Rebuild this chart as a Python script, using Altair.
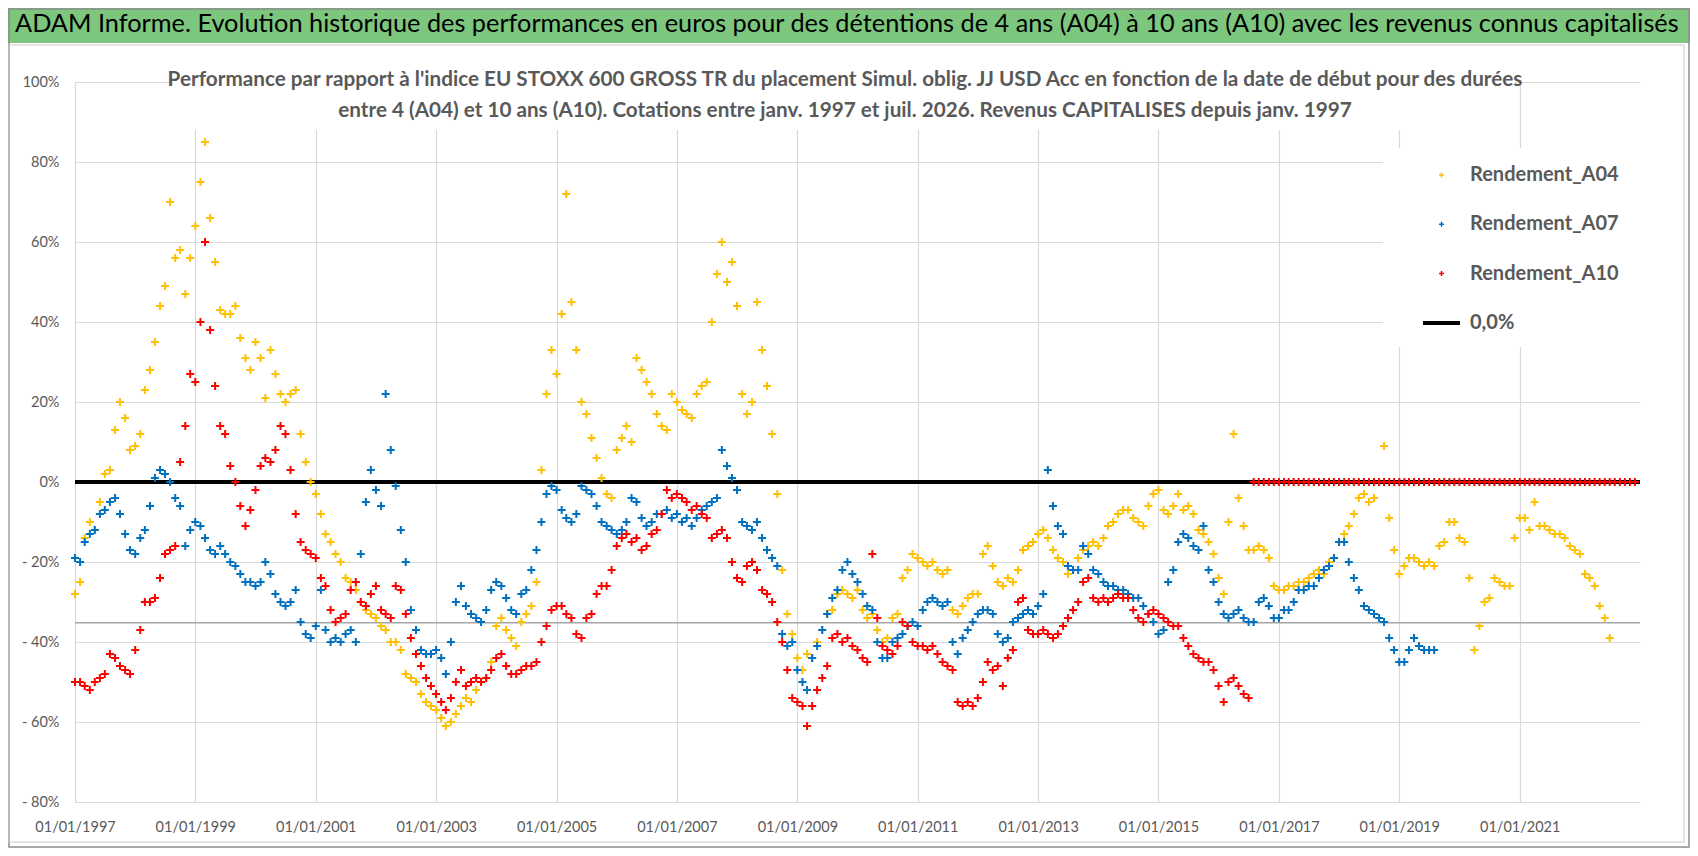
import altair as alt
import pandas as pd

# --- series: one reading per month (percent), starting January 1997 ---
names = ["Rendement_A04", "Rendement_A07", "Rendement_A10", "0,0%"]
colors = ["#FFC000", "#0070C0", "#FF0000", "#000000"]
start = "1997-01-01"

a04 = [
    -28, -25, -14, -10, -12, -5, 2, 3, 13, 20, 16, 8,            # 1997
    9, 12, 23, 28, 35, 44, 49, 70, 56, 58, 47, 56,               # 1998
    64, 75, 85, 66, 55, 43, 42, 42, 44, 36, 31, 28,              # 1999
    35, 31, 21, 33, 27, 22, 20, 22, 23, 12, 5, 0,                # 2000
    -3, -8, -13, -15, -18, -20, -24, -25, -27, -30, -32, -33,    # 2001
    -34, -36, -37, -40, -40, -42, -48, -49, -50, -53, -55, -56,  # 2002
    -57, -59, -61, -60, -58, -56, -54, -55, -52, -50, -49, -45,  # 2003
    -36, -34, -37, -39, -41, -35, -33, -31, -25, 3, 22, 33,      # 2004
    27, 42, 72, 45, 33, 20, 17, 11, 6, 1, -3, -4,                # 2005
    8, 11, 14, 10, 31, 28, 25, 22, 17, 14, 13, 22,               # 2006
    20, 18, 17, 16, 22, 24, 25, 40, 52, 60, 50, 55,              # 2007
    44, 22, 17, 20, 45, 33, 24, 12, -3, -22, -33, -38,           # 2008
    -44, -47, -43, -44, -40, -37, -33, -32, -28, -27, -28, -29,  # 2009
    -27, -32, -34, -33, -37, -40, -39, -34, -33, -24, -22, -18,  # 2010
    -19, -20, -21, -20, -22, -23, -22, -32, -33, -31, -29, -28,  # 2011
    -28, -18, -16, -21, -25, -26, -24, -25, -22, -17, -16, -15,  # 2012
    -13, -12, -14, -17, -19, -20, -23, -22, -19, -17, -16, -15,  # 2013
    -16, -14, -11, -10, -8, -7, -7, -9, -10, -11, -6, -3,        # 2014
    -2, -7, -8, -6, -3, -7, -6, -8, -12, -13, -15, -18,          # 2015
    -24, -28, -10, 12, -4, -11, -17, -17, -16, -17, -19, -26,    # 2016
    -27, -27, -26, -26, -25, -25, -24, -23, -22, -23, -20, -19,  # 2017
    -15, -13, -11, -8, -4, -3, -5, -4, 0, 9, -9, -17,            # 2018
    -23, -21, -19, -19, -20, -21, -20, -21, -16, -15, -10, -10,  # 2019
    -14, -15, -24, -42, -36, -30, -29, -24, -25, -26, -26, -14,  # 2020
    -9, -9, -12, -5, -11, -11, -12, -13, -13, -14, -16, -17,     # 2021
    -18, -23, -24, -26, -31, -34, -39,                           # 2022
]

a07 = [
    -19, -20, -15, -13, -12, -8, -7, -5, -4, -8, -13, -17,       # 1997
    -18, -14, -12, -6, 1, 3, 2, 0, -4, -6, -16, -12,             # 1998
    -10, -11, -14, -17, -18, -16, -18, -20, -21, -23, -25, -25,  # 1999
    -26, -25, -20, -23, -28, -30, -31, -30, -27, -35, -38, -39,  # 2000
    -36, -27, -37, -40, -39, -40, -38, -37, -40, -18, -5, 3,     # 2001
    -2, -6, 22, 8, -1, -12, -20, -32, -37, -42, -43, -43,        # 2002
    -42, -44, -48, -40, -30, -26, -31, -33, -34, -35, -32, -27,  # 2003
    -25, -26, -29, -32, -33, -28, -27, -22, -17, -10, -3, -1,    # 2004
    -2, -7, -9, -10, -8, -1, -2, -3, -6, -10, -11, -12,          # 2005
    -13, -12, -10, -4, -5, -9, -11, -10, -8, -8, -7, -9,         # 2006
    -8, -10, -9, -11, -9, -7, -6, -5, -4, 8, 4, 1,               # 2007
    -2, -10, -11, -12, -10, -14, -17, -19, -21, -38, -41, -40,   # 2008
    -47, -50, -52, -44, -41, -37, -33, -29, -27, -22, -20, -23,  # 2009
    -25, -28, -31, -32, -40, -44, -44, -40, -39, -38, -36, -35,  # 2010
    -36, -32, -30, -29, -30, -31, -30, -40, -43, -39, -37, -35,  # 2011
    -33, -32, -32, -33, -38, -40, -39, -35, -34, -33, -32, -33,  # 2012
    -31, -28, 3, -6, -11, -13, -21, -22, -22, -16, -18, -22,     # 2013
    -23, -25, -26, -26, -27, -27, -28, -29, -29, -31, -33, -35,  # 2014
    -38, -37, -25, -22, -15, -13, -14, -16, -17, -11, -22, -25,  # 2015
    -30, -33, -34, -33, -32, -34, -35, -35, -30, -29, -31, -34,  # 2016
    -34, -32, -32, -30, -27, -27, -26, -26, -24, -22, -21, -19,  # 2017
    -15, -15, -20, -24, -27, -31, -32, -33, -34, -35, -39, -42,  # 2018
    -45, -45, -42, -39, -41, -42, -42, -42,                      # 2019
]

a10 = [
    -50, -50, -51, -52, -50, -49, -48, -43, -44, -46, -47, -48,  # 1997
    -42, -37, -30, -30, -29, -24, -18, -17, -16, 5, 14, 27,      # 1998
    25, 40, 60, 38, 24, 14, 12, 4, 0, -6, -11, -7,               # 1999
    -2, 4, 6, 5, 8, 14, 12, 3, -8, -15, -17, -18,                # 2000
    -19, -24, -26, -32, -35, -34, -33, -27, -25, -30, -31, -28,  # 2001
    -26, -32, -33, -34, -26, -27, -33, -39, -43, -46, -49, -51,  # 2002
    -53, -55, -57, -54, -50, -47, -51, -50, -49, -50, -49, -47,  # 2003
    -44, -43, -46, -48, -48, -47, -46, -46, -45, -40, -36, -32,  # 2004
    -31, -31, -33, -34, -38, -39, -34, -33, -28, -26, -26, -22,  # 2005
    -16, -14, -13, -15, -14, -17, -16, -13, -12, -8, -2, -4,     # 2006
    -3, -4, -5, -7, -6, -8, -9, -14, -13, -12, -14, -20,         # 2007
    -24, -25, -21, -20, -22, -27, -28, -30, -35, -40, -47, -54,  # 2008
    -55, -56, -61, -56, -52, -49, -46, -39, -38, -40, -39, -41,  # 2009
    -42, -44, -45, -18, -34, -41, -42, -43, -41, -35, -36, -40,  # 2010
    -41, -41, -42, -41, -43, -45, -46, -47, -55, -56, -55, -56,  # 2011
    -54, -50, -45, -47, -46, -51, -44, -42, -30, -29, -37, -38,  # 2012
    -38, -37, -38, -39, -38, -36, -34, -32, -30, -25, -24, -29,  # 2013
    -30, -29, -30, -29, -28, -29, -29, -32, -34, -35, -33, -32,  # 2014
    -33, -34, -35, -36, -36, -39, -41, -43, -44, -45, -45, -47,  # 2015
    -51, -55, -50, -49, -51, -53, -54,                           # 2016 (to July)
    0, 0, 0, 0, 0,                                               # 2016 (Aug-Dec)
    0, 0, 0, 0, 0, 0, 0, 0, 0, 0, 0, 0,                          # 2017
    0, 0, 0, 0, 0, 0, 0, 0, 0, 0, 0, 0,                          # 2018
    0, 0, 0, 0, 0, 0, 0, 0, 0, 0, 0, 0,                          # 2019
    0, 0, 0, 0, 0, 0, 0, 0, 0, 0, 0, 0,                          # 2020
    0, 0, 0, 0, 0, 0, 0, 0, 0, 0, 0, 0,                          # 2021
    0, 0, 0, 0, 0, 0, 0, 0, 0, 0, 0, 0,                          # 2022
]

zero_line = [0.0]
grey_line = [-35.2]
y_ticks = [-80, -60, -40, -20, 0, 20, 40, 60, 80, 100]
x_tick_years = [1997, 1999, 2001, 2003, 2005, 2007, 2009, 2011, 2013, 2015, 2017, 2019, 2021]

title_txt = ("ADAM Informe. Evolution historique des performances en euros pour des détentions "
             "de 4 ans (A04) à 10 ans (A10) avec les revenus connus capitalisés")
sub1 = ("Performance par rapport à l'indice EU STOXX 600 GROSS TR  du placement Simul. oblig. "
        "JJ USD Acc en fonction de la date de début pour des durées")
sub2 = ("entre 4 (A04) et 10 ans (A10). Cotations entre janv. 1997 et juil. 2026. "
        "Revenus CAPITALISES depuis janv. 1997")

FONT = "Lato"
GREY_TXT = "#595959"
PLUS = "M-1,0H1M0,-1V1"
BAR = "M-7.4,-0.5H7.4M-7.4,0H7.4M-7.4,0.5H7.4"


def monthly(vals, name):
    return pd.DataFrame({
        "date": pd.date_range(start, periods=len(vals), freq="MS").strftime("%Y-%m-%d"),
        "perf": vals,
        "serie": name,
    })


pts = pd.concat([monthly(a04, names[0]), monthly(a07, names[1]), monthly(a10, names[2])],
                ignore_index=True)

# --- scales / axes shared by every layer ---
x_scale = alt.Scale(domain=[alt.DateTime(year=1997, month=1, date=1),
                            alt.DateTime(year=2023, month=1, date=1)])
y_scale = alt.Scale(domain=[-80, 100], nice=False)
x_axis = alt.Axis(values=[alt.DateTime(year=y, month=1, date=1) for y in x_tick_years],
                  format="%d/%m/%Y", title=None, ticks=False, domain=False, labelAngle=0,
                  labelPadding=18, labelFontSize=14.5, labelColor=GREY_TXT, labelFont=FONT,
                  labelOverlap=False, labelFlush=False, gridColor="#D9D9D9", gridWidth=1.2)
y_axis = alt.Axis(values=y_ticks, title=None, ticks=False, domain=False,
                  labelExpr="datum.value < 0 ? '- ' + abs(datum.value) + '%' : datum.value + '%'",
                  labelPadding=16, labelFontSize=14.5, labelColor=GREY_TXT, labelFont=FONT,
                  gridColor="#D9D9D9", gridWidth=1.2)

leg = alt.Legend(title=None, orient="none", legendX=1356.5, legendY=83, padding=0,
                 symbolSize=25, symbolStrokeWidth=1.5,
                 labelFont=FONT, labelFontSize=20, labelFontWeight="bold", labelColor=GREY_TXT,
                 labelOffset=18.5, rowPadding=29.3, labelLimit=400)

one = pd.DataFrame({"k": [0]})

# decoration: green banner, frames, white boxes behind subtitle and legend
banner = alt.Chart(one).mark_rect(color="#7CC67E").encode(
    x=alt.value(-67), x2=alt.value(1615), y=alt.value(-74), y2=alt.value(-39))
frame_out = alt.Chart(one).mark_rect(filled=False, stroke="#8C8C8C", strokeWidth=1.5).encode(
    x=alt.value(-66), x2=alt.value(1614), y=alt.value(-73), y2=alt.value(765))
frame_in = alt.Chart(one).mark_rect(filled=False, stroke="#C8C8C8", strokeWidth=1).encode(
    x=alt.value(-66), x2=alt.value(1609), y=alt.value(-37), y2=alt.value(760))
sub_box = alt.Chart(one).mark_rect(color="white").encode(
    x=alt.value(98), x2=alt.value(1440), y=alt.value(-14), y2=alt.value(48))
leg_box = alt.Chart(one).mark_rect(color="white").encode(
    x=alt.value(1308), x2=alt.value(1566), y=alt.value(66), y2=alt.value(265))

title_mark = alt.Chart(one).mark_text(
    text=title_txt, font=FONT, fontSize=25.3, color="black", align="left", baseline="middle"
).encode(x=alt.value(-60), y=alt.value(-58))
sub1_mark = alt.Chart(one).mark_text(
    text=sub1, font=FONT, fontSize=20.7, fontWeight="bold", color=GREY_TXT, align="center",
    baseline="middle").encode(x=alt.value(770), y=alt.value(-2))
sub2_mark = alt.Chart(one).mark_text(
    text=sub2, font=FONT, fontSize=20.7, fontWeight="bold", color=GREY_TXT, align="center",
    baseline="middle").encode(x=alt.value(770), y=alt.value(29))

grey = alt.Chart(pd.DataFrame({"perf": grey_line})).mark_rule(
    color="#A6A6A6", strokeWidth=1.5).encode(y=alt.Y("perf:Q", scale=y_scale, axis=y_axis))
zero = alt.Chart(pd.DataFrame({"perf": zero_line})).mark_rule(
    color="black", strokeWidth=4).encode(y=alt.Y("perf:Q", scale=y_scale, axis=y_axis))

points = alt.Chart(pts).mark_point(filled=False, size=64, strokeWidth=2, opacity=1).encode(
    x=alt.X("date:T", scale=x_scale, axis=x_axis),
    y=alt.Y("perf:Q", scale=y_scale, axis=y_axis),
    color=alt.Color("serie:N", scale=alt.Scale(domain=names, range=colors), legend=leg),
    shape=alt.Shape("serie:N", scale=alt.Scale(domain=names, range=[PLUS, PLUS, PLUS, BAR]),
                    legend=leg),
)

chart = alt.layer(
    banner, frame_out, frame_in, sub_box, leg_box, grey, zero, points,
    title_mark, sub1_mark, sub2_mark
).properties(
    width=1565, height=720,
    autosize=alt.AutoSizeParams(type="none"),
    padding={"left": 67, "top": 74, "right": 50, "bottom": 46},
    background="white",
).configure(font=FONT).configure_view(strokeWidth=0)

chart.save("out.html", embed_options={"renderer": "svg", "actions": False})
